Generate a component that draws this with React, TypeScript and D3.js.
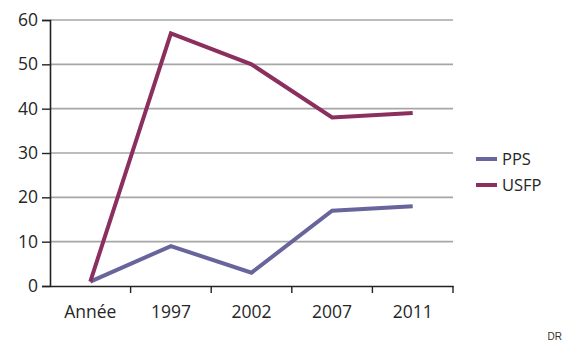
import React, { useEffect, useRef } from "react";
import * as d3 from "d3";

const categories = ["Année", "1997", "2002", "2007", "2011"];
const ppsValues = [1, 9, 3, 17, 18];
const usfpValues = [1, 57, 50, 38, 39];
const yTicks = [0, 10, 20, 30, 40, 50, 60];

const series = [
  { name: "PPS", values: ppsValues, color: "#67659b" },
  { name: "USFP", values: usfpValues, color: "#8a2f5e" },
];

const App = () => {
  const svgRef = useRef<SVGSVGElement>(null);

  useEffect(() => {
    const svg = d3.select(svgRef.current);
    svg.selectAll("*").remove();

    const left = 50;
    const right = 453;
    const top = 20;
    const bottom = 286;
    const font = "'Open Sans', 'DejaVu Sans', sans-serif";

    const x = d3.scaleBand().domain(categories).range([left, right]);
    const y = d3.scaleLinear().domain([0, 60]).range([bottom, top]);

    // gridlines
    svg
      .append("g")
      .selectAll("line")
      .data(yTicks.filter((t) => t > 0))
      .enter()
      .append("line")
      .attr("x1", left)
      .attr("x2", right)
      .attr("y1", (d) => y(d))
      .attr("y2", (d) => y(d))
      .attr("stroke", "#a6a6a6")
      .attr("stroke-width", 1.6);

    // y axis
    const yAxis = svg
      .append("g")
      .attr("transform", `translate(${left},0)`)
      .call(d3.axisLeft(y).tickValues(yTicks).tickSize(8).tickPadding(4));
    yAxis.select(".domain").attr("stroke", "#222").attr("stroke-width", 1.6);
    yAxis.selectAll(".tick line").attr("stroke", "#222").attr("stroke-width", 1.4);
    yAxis
      .selectAll(".tick text")
      .attr("font-family", font)
      .attr("font-size", 17.5)
      .attr("fill", "#262626");

    // x axis
    const xAxis = svg
      .append("g")
      .attr("transform", `translate(0,${bottom})`)
      .call(d3.axisBottom(x).tickSize(0).tickPadding(20));
    xAxis.select(".domain").attr("stroke", "#222").attr("stroke-width", 1.6);
    xAxis
      .selectAll(".tick text")
      .attr("font-family", font)
      .attr("font-size", 17.5)
      .attr("fill", "#262626");

    // x tick marks at band boundaries
    svg
      .append("g")
      .selectAll("line")
      .data(categories)
      .enter()
      .append("line")
      .attr("x1", (d) => (x(d) as number) + x.bandwidth())
      .attr("x2", (d) => (x(d) as number) + x.bandwidth())
      .attr("y1", bottom)
      .attr("y2", bottom + 7)
      .attr("stroke", "#222")
      .attr("stroke-width", 1.4);

    // lines
    const line = d3
      .line<number>()
      .x((_, i) => (x(categories[i]) as number) + x.bandwidth() / 2)
      .y((d) => y(d));

    series.forEach((s) => {
      svg
        .append("path")
        .datum(s.values)
        .attr("d", line)
        .attr("fill", "none")
        .attr("stroke", s.color)
        .attr("stroke-width", 4)
        .attr("stroke-linejoin", "miter");
    });

    // legend
    const legend = svg.append("g");
    series.forEach((s, i) => {
      const ly = 159 + i * 26;
      legend
        .append("line")
        .attr("x1", 476)
        .attr("x2", 497)
        .attr("y1", ly)
        .attr("y2", ly)
        .attr("stroke", s.color)
        .attr("stroke-width", 4);
      legend
        .append("text")
        .attr("x", 502)
        .attr("y", ly + 6)
        .attr("font-family", font)
        .attr("font-size", 16.5)
        .attr("fill", "#262626")
        .text(s.name);
    });

    svg
      .append("text")
      .attr("x", 562)
      .attr("y", 340)
      .attr("text-anchor", "end")
      .attr("font-family", "Arial, 'Liberation Sans', sans-serif")
      .attr("font-size", 10)
      .attr("fill", "#333")
      .text("DR");
  }, []);

  return (
    <svg
      ref={svgRef}
      width={570}
      height={347}
      style={{ position: "absolute", left: 0, top: 0, background: "#fff" }}
    ></svg>
  );
};

export default App;
